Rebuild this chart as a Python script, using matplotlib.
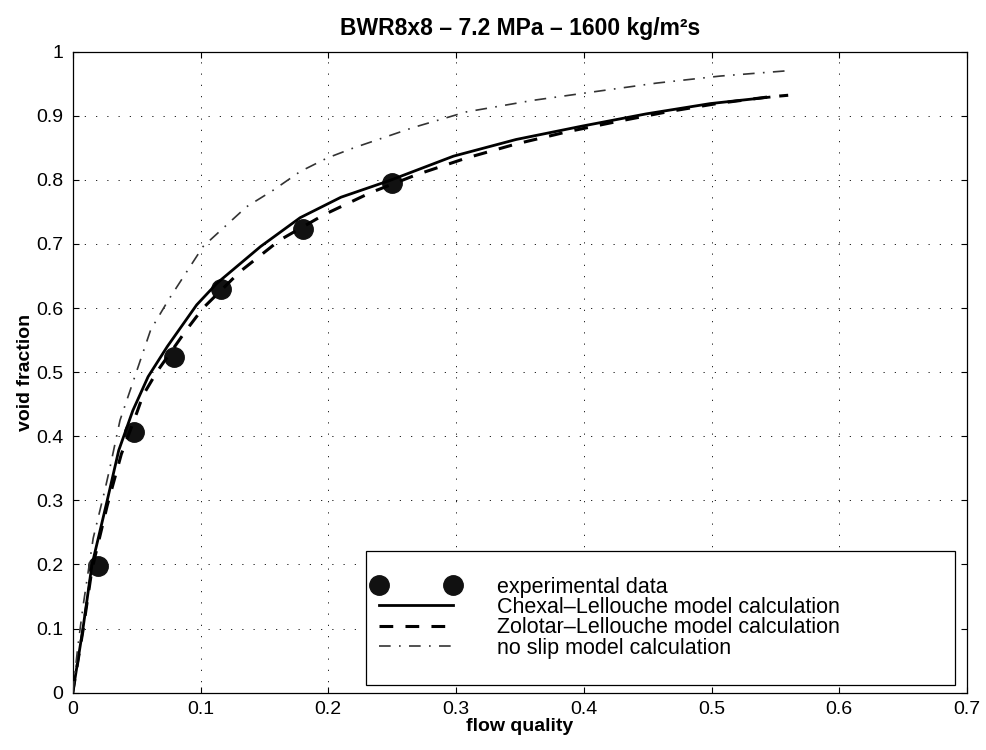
import matplotlib
matplotlib.use('Agg')
import matplotlib.pyplot as plt
from matplotlib.patches import Rectangle
from matplotlib.ticker import FuncFormatter

plt.rcParams['font.family'] = ['Liberation Sans', 'DejaVu Sans']

# experimental points
quality_exp = [0.020, 0.048, 0.0795, 0.116, 0.180, 0.250]
void_exp = [0.198, 0.407, 0.524, 0.629, 0.723, 0.795]

# Chexal-Lellouche (solid)
quality_cl = [0, 0.008, 0.015, 0.027, 0.036, 0.047, 0.059, 0.074, 0.097, 0.113,
              0.147, 0.178, 0.210, 0.248, 0.298, 0.347, 0.399, 0.449, 0.499, 0.545]
void_cl = [0, 0.100, 0.199, 0.300, 0.378, 0.440, 0.493, 0.540, 0.605, 0.639,
           0.696, 0.741, 0.773, 0.799, 0.837, 0.863, 0.884, 0.903, 0.919, 0.929]

# Zolotar-Lellouche (dashed)
quality_zl = [0, 0.008, 0.015, 0.027, 0.038, 0.050, 0.055, 0.066, 0.089, 0.102,
              0.131, 0.162, 0.197, 0.233, 0.269, 0.308, 0.347, 0.387, 0.426, 0.465,
              0.504, 0.543, 0.560]
void_zl = [0, 0.097, 0.192, 0.292, 0.372, 0.436, 0.464, 0.501, 0.566, 0.600,
           0.657, 0.706, 0.746, 0.780, 0.808, 0.834, 0.856, 0.875, 0.891, 0.906,
           0.919, 0.929, 0.932]

# no slip (dash-dot)
quality_ns = [0, 0.004, 0.008, 0.016, 0.025, 0.029, 0.037, 0.045, 0.053, 0.061,
              0.075, 0.102, 0.119, 0.136, 0.157, 0.178, 0.199, 0.220, 0.267, 0.308,
              0.360, 0.410, 0.457, 0.507, 0.558]
void_ns = [0, 0.072, 0.134, 0.241, 0.315, 0.350, 0.425, 0.472, 0.519, 0.566,
           0.613, 0.696, 0.727, 0.758, 0.784, 0.813, 0.834, 0.850, 0.882, 0.906,
           0.924, 0.938, 0.951, 0.962, 0.970]

labels = ['experimental data', 'Chexal\u2013Lellouche model calculation',
          'Zolotar\u2013Lellouche model calculation', 'no slip model calculation']

fig = plt.figure(figsize=(9.87, 7.5), dpi=100)
ax = fig.add_axes([0.0737, 0.0764, 0.9061, 0.8547])

h_exp, = ax.plot(quality_exp, void_exp, 'o', color='#111111', markersize=14,
                 zorder=3)
h_cl, = ax.plot(quality_cl, void_cl, '-', color='k', lw=2.0, zorder=4)
h_zl, = ax.plot(quality_zl, void_zl, color='k', lw=2.2, zorder=4,
                linestyle=(0, (4.5, 4.0)))
h_ns, = ax.plot(quality_ns, void_ns, color='#333333', lw=1.2, zorder=4,
                linestyle=(0, (7, 5, 1, 5)))

ax.set_xlim(0, 0.7)
ax.set_ylim(0, 1)
ax.set_xticks([0, 0.1, 0.2, 0.3, 0.4, 0.5, 0.6, 0.7])
ax.set_yticks([0, 0.1, 0.2, 0.3, 0.4, 0.5, 0.6, 0.7, 0.8, 0.9, 1])
fmt = FuncFormatter(lambda v, p: '%g' % round(v, 2))
ax.xaxis.set_major_formatter(fmt)
ax.yaxis.set_major_formatter(fmt)
ax.tick_params(direction='in', length=4, width=0.8, top=True, right=True,
               labelsize=14)
ax.tick_params(axis='x', pad=6)
ax.tick_params(axis='y', pad=7)
for s in ax.spines.values():
    s.set_linewidth(0.9)

ax.grid(True, color='k', lw=0.6, linestyle=(0, (1.5, 12)))
ax.set_axisbelow(True)

ax.set_title('BWR8x8 \u2013 7.2 MPa \u2013 1600 kg/m\u00b2s', fontsize=16.5,
             fontweight='bold', pad=12)
ax.set_xlabel('flow quality', fontsize=14, fontweight='bold', labelpad=0)
ax.set_ylabel('void fraction', fontsize=14, fontweight='bold', labelpad=1)

# legend box
ax.add_patch(Rectangle((0.328, 0.012), 0.659, 0.209, transform=ax.transAxes,
                       facecolor='white', edgecolor='k', lw=0.9, zorder=5))
leg = ax.legend([h_exp, h_cl, h_zl, h_ns], labels, loc='upper left',
                bbox_to_anchor=(0.3356, 0.181), borderaxespad=0, borderpad=0,
                frameon=False, numpoints=2, handlelength=4.0,
                handletextpad=1.75, labelspacing=-0.03, fontsize=15.5)
leg.set_zorder(6)

fig.savefig('out.png', dpi=100)
